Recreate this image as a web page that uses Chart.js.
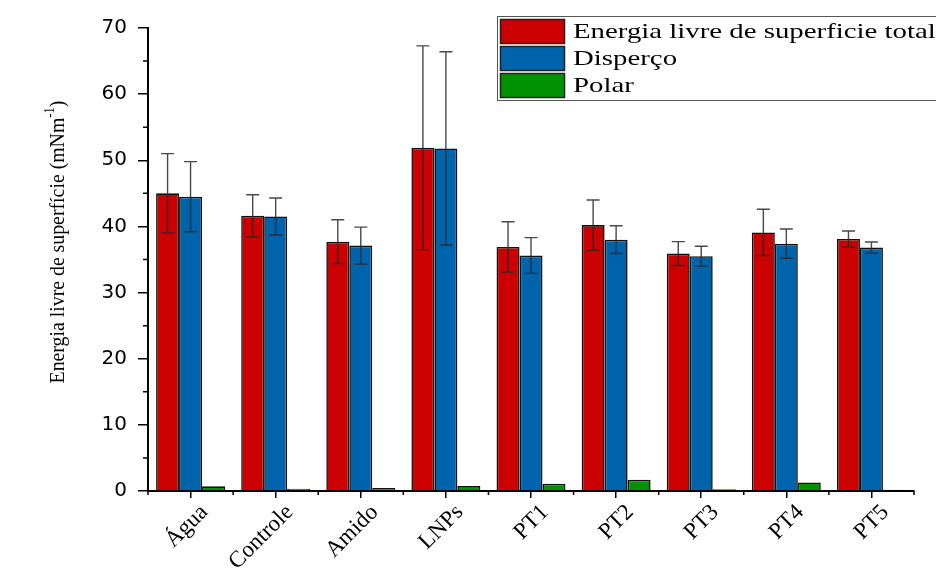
<!DOCTYPE html>
<html>
<head>
<meta charset="utf-8">
<script src="https://cdn.jsdelivr.net/npm/chart.js@4.4.0/dist/chart.umd.min.js"></script>
<style>
  html, body { margin: 0; padding: 0; background: #fff; }
  #wrap { width: 936px; height: 570px; }
</style>
</head>
<body>
<div id="wrap"><canvas id="myChart" width="936" height="570"></canvas></div>
<script>
// values
const categories = ['Água', 'Controle', 'Amido', 'LNPs', 'PT1', 'PT2', 'PT3', 'PT4', 'PT5'];
const totalValues = [45.0, 41.6, 37.7, 51.9, 36.9, 40.2, 35.9, 39.1, 38.1];
const totalErrors = [6.0, 3.2, 3.3, 15.4, 3.8, 3.8, 1.8, 3.5, 1.2];
const dispersivoValues = [44.5, 41.5, 37.1, 51.8, 35.6, 38.0, 35.5, 37.4, 36.8];
const dispersivoErrors = [5.3, 2.8, 2.8, 14.6, 2.7, 2.1, 1.5, 2.2, 0.85];
const polarValues = [0.7, 0.35, 0.45, 0.75, 1.1, 1.7, 0.25, 1.3, 0.2];
const seriesNames = ['Energia livre de superficie total', 'Disperço', 'Polar'];
const yTicks = [0, 10, 20, 30, 40, 50, 60, 70];

const colors = ['#cc0000', '#0064ad', '#009200'];

// error bars on top of the bars
const errorBars = {
  id: 'errorBars',
  afterDatasetsDraw(chart) {
    const ctx = chart.ctx;
    const y = chart.scales.y;
    ctx.save();
    ctx.strokeStyle = 'rgba(40,40,40,0.85)';
    ctx.lineWidth = 1.4;
    chart.data.datasets.forEach((ds, di) => {
      if (!ds.errors) return;
      chart.getDatasetMeta(di).data.forEach((bar, i) => {
        const v = ds.data[i], e = ds.errors[i];
        const top = y.getPixelForValue(v + e);
        const bot = y.getPixelForValue(v - e);
        ctx.beginPath();
        ctx.moveTo(bar.x, top); ctx.lineTo(bar.x, bot);
        ctx.moveTo(bar.x - 6.5, top); ctx.lineTo(bar.x + 6.5, top);
        ctx.moveTo(bar.x - 6.5, bot); ctx.lineTo(bar.x + 6.5, bot);
        ctx.stroke();
      });
    });
    ctx.restore();
  }
};

// minor ticks, y title and framed legend
const decorations = {
  id: 'decorations',
  afterDraw(chart) {
    const ctx = chart.ctx;
    const x = chart.scales.x, y = chart.scales.y;
    const area = chart.chartArea;
    ctx.save();
    ctx.strokeStyle = '#000';
    ctx.lineWidth = 1.5;
    ctx.beginPath();
    for (let v = 5; v < 70; v += 10) {
      const py = y.getPixelForValue(v);
      ctx.moveTo(area.left - 5, py); ctx.lineTo(area.left, py);
    }
    for (let i = 0; i <= categories.length; i++) {
      const px = x.getPixelForValue(i - 0.5);
      ctx.moveTo(px, area.bottom); ctx.lineTo(px, area.bottom + 4);
    }
    ctx.stroke();

    // y axis title with superscript
    ctx.fillStyle = '#000';
    ctx.translate(64, 242);
    ctx.rotate(-Math.PI / 2);
    ctx.scale(0.9, 1);
    const main = 'Energia livre de superfície (mNm';
    ctx.font = '22px "Liberation Serif"';
    const wMain = ctx.measureText(main).width;
    ctx.font = '14px "Liberation Serif"';
    const wSup = ctx.measureText('-1').width;
    ctx.font = '22px "Liberation Serif"';
    const wEnd = ctx.measureText(')').width;
    let start = -(wMain + wSup + wEnd) / 2;
    ctx.textBaseline = 'alphabetic';
    ctx.textAlign = 'left';
    ctx.fillText(main, start, 0);
    ctx.font = '14px "Liberation Serif"';
    ctx.fillText('-1', start + wMain, -10);
    ctx.font = '22px "Liberation Serif"';
    ctx.fillText(')', start + wMain + wSup, 0);
    ctx.restore();

    // legend box
    ctx.save();
    ctx.fillStyle = '#fff';
    ctx.fillRect(497, 16, 450, 84);
    ctx.strokeStyle = '#555';
    ctx.lineWidth = 1;
    ctx.strokeRect(497.5, 16.5, 450, 84);
    chart.data.datasets.forEach((ds, i) => {
      const top = 19.5 + i * 27;
      ctx.fillStyle = ds.backgroundColor;
      ctx.fillRect(500.5, top, 64, 24);
      ctx.strokeStyle = '#222';
      ctx.lineWidth = 1.5;
      ctx.strokeRect(500.5, top, 64, 24);
      ctx.save();
      ctx.translate(573, top + 13);
      ctx.scale(1.31, 1);
      ctx.fillStyle = '#000';
      ctx.font = '22px "Liberation Serif"';
      ctx.textBaseline = 'middle';
      ctx.fillText(ds.label, 0, 0);
      ctx.restore();
    });
    ctx.restore();
  }
};

const ctx = document.getElementById('myChart');

new Chart(ctx, {
  type: 'bar',
  data: {
    labels: categories,
    datasets: [
      { label: seriesNames[0], data: totalValues, errors: totalErrors, backgroundColor: colors[0] },
      { label: seriesNames[1], data: dispersivoValues, errors: dispersivoErrors, backgroundColor: colors[1] },
      { label: seriesNames[2], data: polarValues, backgroundColor: colors[2] }
    ]
  },
  options: {
    responsive: false,
    animation: false,
    devicePixelRatio: 1,
    layout: { padding: { top: 28, right: 22, left: 0, bottom: 0 } },
    datasets: {
      bar: {
        borderColor: '#111',
        borderWidth: 1.6,
        categoryPercentage: 0.81,
        barPercentage: 1
      }
    },
    scales: {
      x: {
        grid: { display: true, drawOnChartArea: false, offset: false, tickLength: 7, color: '#000', lineWidth: 1.5 },
        border: { color: '#000', width: 2 },
        ticks: {
          color: '#000',
          autoSkip: false,
          maxRotation: 45,
          minRotation: 45,
          padding: 1,
          labelOffset: 14,
          font: { family: '"Liberation Serif"', size: 23 }
        },
        afterFit(scale) { scale.height = 79; }
      },
      y: {
        min: 0,
        max: 70,
        grid: { display: true, drawOnChartArea: false, tickLength: 10, color: '#000', lineWidth: 1.5 },
        border: { color: '#000', width: 2 },
        afterBuildTicks(scale) { scale.ticks = yTicks.map(v => ({ value: v })); },
        ticks: {
          color: '#000',
          padding: 11,
          font: { family: '"DejaVu Sans"', size: 20 }
        },
        afterFit(scale) { scale.width = 148; }
      }
    },
    plugins: {
      legend: { display: false },
      tooltip: { enabled: false }
    }
  },
  plugins: [errorBars, decorations]
});
</script>
</body>
</html>
